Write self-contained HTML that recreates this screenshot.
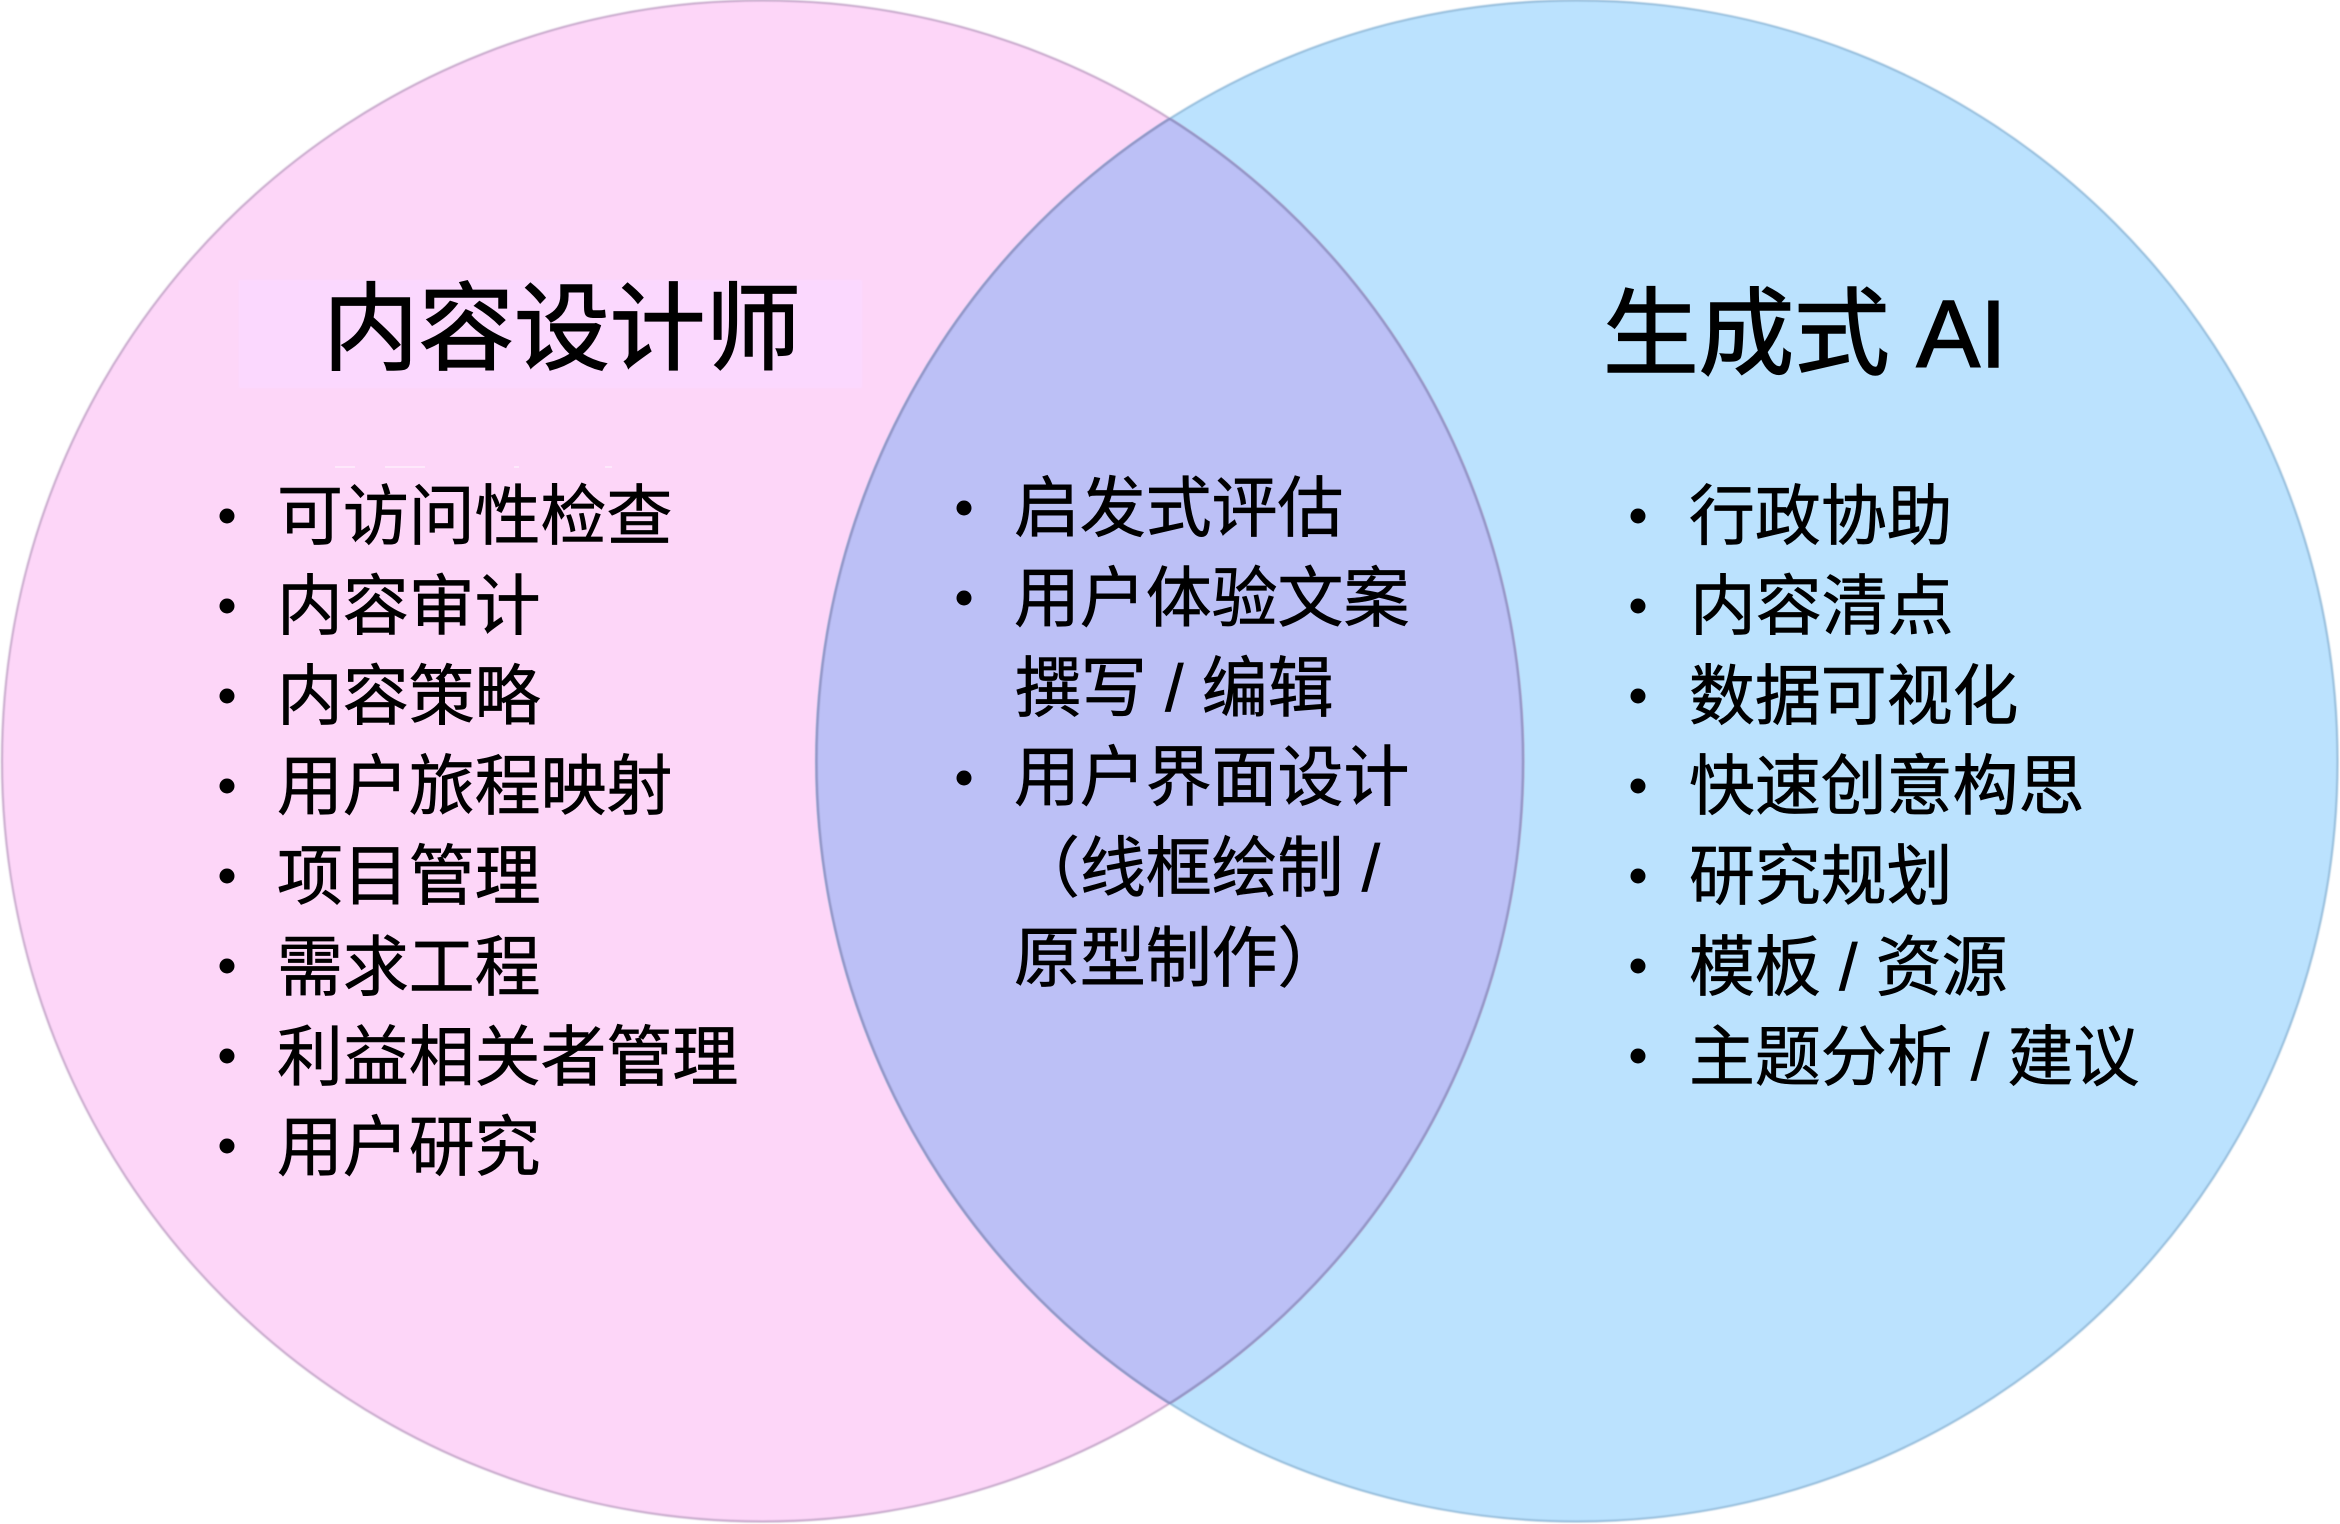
<!DOCTYPE html>
<html><head><meta charset="utf-8"><style>
html,body{margin:0;padding:0;background:#fff;width:2340px;height:1524px;overflow:hidden}
svg{display:block}
text{font-family:"Liberation Sans","WenQuanYi Zen Hei","Noto Sans CJK SC",sans-serif;fill:#000}
.t text{font-size:65.9px;stroke:#000;stroke-width:.7px}
.h{font-size:95.6px;stroke:#000;stroke-width:1.5px}
</style></head><body>
<svg width="2340" height="1524" viewBox="0 0 2340 1524" xmlns="http://www.w3.org/2000/svg">
<defs><clipPath id="c"><circle cx="762.5" cy="761" r="761"/></clipPath><clipPath id="d"><circle cx="1577" cy="761" r="761"/></clipPath><filter id="b" x="-2%" y="-2%" width="104%" height="104%"><feGaussianBlur stdDeviation="0.7"/></filter></defs>
<rect width="2340" height="1524" fill="#fff"/>
<circle cx="762.5" cy="761" r="760.5" fill="#fdd6f8"/>
<circle cx="1577" cy="761" r="760.5" fill="#bbe2fe"/>
<circle cx="762.5" cy="761" r="760.5" fill="none" stroke="#c6a8ca" stroke-width="2" filter="url(#b)"/>
<circle cx="1577" cy="761" r="760.5" fill="none" stroke="#94bcda" stroke-width="2" filter="url(#b)"/>
<circle cx="1577" cy="761" r="761" fill="#bcc0f6" clip-path="url(#c)"/>
<g clip-path="url(#c)">
<circle cx="1577" cy="761" r="760.5" fill="none" stroke="#8f92c2" stroke-width="2.2" filter="url(#b)"/>
</g>
<g clip-path="url(#d)">
<circle cx="762.5" cy="761" r="760.5" fill="none" stroke="#8f92c2" stroke-width="2.2" filter="url(#b)"/>
</g>
<rect x="239" y="280" width="623" height="108" fill="#fbd8fe" filter="url(#b)"/>
<g fill="#fff" opacity=".45">
<rect x="335" y="466" width="20" height="2"/><rect x="385" y="466" width="40" height="2"/><rect x="514" y="466" width="5" height="2"/><rect x="605" y="466" width="7" height="2"/>
</g>
<text class="h" x="323" y="362">内容设计师</text>
<text class="h" x="1603" y="367">生成式 AI</text>
<g fill="#000">
<circle cx="227" cy="516" r="7.5"/><circle cx="227" cy="606" r="7.5"/><circle cx="227" cy="696" r="7.5"/><circle cx="227" cy="786" r="7.5"/><circle cx="227" cy="876" r="7.5"/><circle cx="227" cy="966" r="7.5"/><circle cx="227" cy="1056" r="7.5"/><circle cx="227" cy="1146" r="7.5"/>
<circle cx="964" cy="508" r="7.5"/><circle cx="964" cy="598" r="7.5"/><circle cx="964" cy="778" r="7.5"/>
<circle cx="1638" cy="516" r="7.5"/><circle cx="1638" cy="606" r="7.5"/><circle cx="1638" cy="696" r="7.5"/><circle cx="1638" cy="786" r="7.5"/><circle cx="1638" cy="876" r="7.5"/><circle cx="1638" cy="966" r="7.5"/><circle cx="1638" cy="1056" r="7.5"/>
</g>
<g class="t">
<text x="277" y="539">可访问性检查</text>
<text x="277" y="629">内容审计</text>
<text x="277" y="719">内容策略</text>
<text x="277" y="809">用户旅程映射</text>
<text x="277" y="899">项目管理</text>
<text x="277" y="990">需求工程</text>
<text x="277" y="1080">利益相关者管理</text>
<text x="277" y="1170">用户研究</text>
<text x="1014" y="531">启发式评估</text>
<text x="1014" y="621">用户体验文案</text>
<text x="1015" y="711">撰写 / 编辑</text>
<text x="1014" y="800">用户界面设计</text>
<text x="1014" y="891">（线框绘制 /</text>
<text x="1014" y="981">原型制作）</text>
<text x="1689" y="539">行政协助</text>
<text x="1690" y="629">内容清点</text>
<text x="1689" y="719">数据可视化</text>
<text x="1689" y="809">快速创意构思</text>
<text x="1689" y="899">研究规划</text>
<text x="1689" y="990">模板 / 资源</text>
<text x="1689" y="1080">主题分析 / 建议</text>
</g>
</svg>
</body></html>
